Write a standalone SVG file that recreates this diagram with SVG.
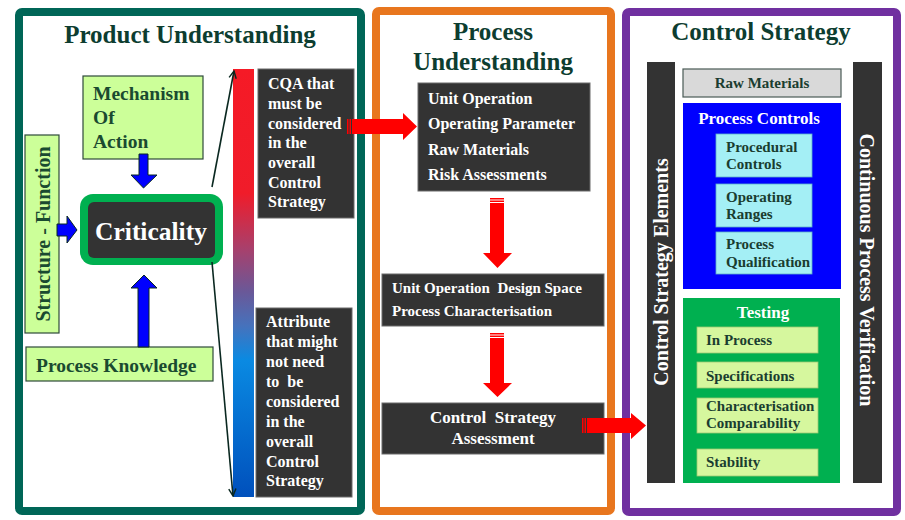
<svg xmlns="http://www.w3.org/2000/svg" width="905" height="520" viewBox="0 0 905 520">
<defs>
<linearGradient id="bar" x1="0" y1="0" x2="0" y2="1">
<stop offset="0" stop-color="#f51a26"/>
<stop offset="0.29" stop-color="#f01c2a"/>
<stop offset="0.42" stop-color="#a8406c"/>
<stop offset="0.52" stop-color="#6a5898"/>
<stop offset="0.6" stop-color="#4672bc"/>
<stop offset="0.68" stop-color="#0a8ae2"/>
<stop offset="1" stop-color="#0050bc"/>
</linearGradient>
<marker id="ah" viewBox="0 0 10 10" refX="9" refY="5" markerWidth="9" markerHeight="9" orient="auto" markerUnits="userSpaceOnUse">
<path d="M1,1 L9,5 L1,9" fill="none" stroke="#0a2820" stroke-width="1.6"/>
</marker>
</defs>
<style>
text{font-family:"Liberation Serif","Times New Roman",serif;font-weight:bold}
.title{font-size:25px;fill:#0d3d30}
.lg{fill:#ccff99;stroke:#2d4a3a;stroke-width:1.2}
.lgt{font-size:19.5px;fill:#1a4a30}
.dark{fill:#333333;stroke:#6a6a6a;stroke-width:1}
.wt{fill:#ffffff}
.cyan{fill:#a4eff5;stroke:#5fb0c8;stroke-width:0.8}
.pale{fill:#d6f79e;stroke:#9bc870;stroke-width:0.8}
.st{font-size:15px;fill:#1a3d30}
.blue{fill:#0000ff;stroke:#0a2a20;stroke-width:1}
.red{fill:#ff0000}
.conn{stroke:#0a2820;stroke-width:1.6;fill:none}
</style>

<rect width="905" height="520" fill="#ffffff"/>

<g id="panel-product">
<rect x="19" y="12" width="342" height="499" rx="3" fill="#ffffff" stroke="#006657" stroke-width="8"/>
<text x="190" y="43" text-anchor="middle" class="title">Product Understanding</text>
</g>
<g id="panel-process">
<rect x="376" y="11" width="235" height="500" rx="3" fill="#ffffff" stroke="#e8761e" stroke-width="8"/>
<text x="493" y="40" text-anchor="middle" class="title">Process</text>
<text x="493" y="70" text-anchor="middle" class="title">Understanding</text>
</g>
<g id="panel-control">
<rect x="626" y="12" width="271" height="500" rx="3" fill="#ffffff" stroke="#7030a0" stroke-width="8"/>
<text x="761" y="40" text-anchor="middle" class="title">Control Strategy</text>
</g>

<g id="mechanism">
<rect x="83" y="76" width="120" height="83" class="lg"/>
<text class="lgt" x="93" y="100">Mechanism</text>
<text class="lgt" x="93" y="124">Of</text>
<text class="lgt" x="93" y="148">Action</text>
</g>
<g id="structure">
<rect x="25" y="135" width="34" height="198" class="lg"/>
<text class="lgt" x="50" y="234" text-anchor="middle" transform="rotate(-90 50 234)" style="font-size:20px">Structure - Function</text>
</g>
<g id="knowledge">
<rect x="26" y="347" width="187" height="34" class="lg"/>
<text class="lgt" x="36" y="372">Process Knowledge</text>
</g>
<g id="criticality">
<rect x="80" y="194" width="143" height="71" rx="13" fill="#00b050"/>
<rect x="88" y="202" width="127" height="56" rx="6" fill="#333333"/>
<text x="151" y="240" text-anchor="middle" class="wt" style="font-size:25.5px">Criticality</text>
</g>
<g id="gradient-bar">
<rect x="233" y="69" width="21" height="428" fill="url(#bar)"/>
</g>
<g id="cqa">
<rect x="258" y="69" width="96" height="149" class="dark"/>
<g class="wt" style="font-size:16px">
<text x="268" y="89">CQA that</text>
<text x="268" y="109">must be</text>
<text x="268" y="129">considered</text>
<text x="268" y="148">in the</text>
<text x="268" y="168">overall</text>
<text x="268" y="188">Control</text>
<text x="268" y="207">Strategy</text>
</g>
</g>
<g id="attribute">
<rect x="256" y="308" width="96" height="189" class="dark"/>
<g class="wt" style="font-size:16px">
<text x="266" y="327">Attribute</text>
<text x="266" y="347">that might</text>
<text x="266" y="367">not need</text>
<text x="266" y="387" xml:space="preserve">to  be</text>
<text x="266" y="407">considered</text>
<text x="266" y="427">in the</text>
<text x="266" y="447">overall</text>
<text x="266" y="467">Control</text>
<text x="266" y="486">Strategy</text>
</g>
</g>

<g id="process-box1">
<rect x="418" y="83" width="172" height="108" class="dark"/>
<g class="wt" style="font-size:16px">
<text x="428" y="104">Unit Operation</text>
<text x="428" y="129">Operating Parameter</text>
<text x="428" y="155">Raw Materials</text>
<text x="428" y="180">Risk Assessments</text>
</g>
</g>
<g id="process-box2">
<rect x="382" y="274" width="222" height="52" class="dark"/>
<g class="wt" style="font-size:15px">
<text x="392" y="293" xml:space="preserve">Unit Operation  Design Space</text>
<text x="392" y="316">Process Characterisation</text>
</g>
</g>
<g id="process-box3">
<rect x="382" y="403" width="222" height="51" class="dark"/>
<g class="wt" style="font-size:17px" text-anchor="middle">
<text x="493" y="423" xml:space="preserve">Control  Strategy</text>
<text x="493" y="444">Assessment</text>
</g>
</g>

<g id="cs-elements">
<rect x="647" y="62" width="28" height="421" fill="#333333"/>
<text x="668" y="272" text-anchor="middle" transform="rotate(-90 668 272)" class="wt" style="font-size:20px">Control Strategy Elements</text>
</g>
<g id="cpv">
<rect x="853" y="62" width="29" height="421" fill="#333333"/>
<text x="860" y="270" text-anchor="middle" transform="rotate(90 860 270)" class="wt" style="font-size:20px">Continuous Process Verification</text>
</g>
<g id="raw-materials">
<rect x="683" y="69" width="158" height="28" fill="#d9d9d9" stroke="#4a5a55" stroke-width="1.2"/>
<text x="762" y="88" text-anchor="middle" class="st">Raw Materials</text>
</g>
<g id="process-controls">
<rect x="683" y="103" width="158" height="186" fill="#0000ff"/>
<text x="759" y="124" text-anchor="middle" class="wt" style="font-size:17px">Process Controls</text>
<rect x="716" y="134" width="96" height="43" class="cyan"/>
<text x="726" y="152" class="st">Procedural</text>
<text x="726" y="169" class="st">Controls</text>
<rect x="716" y="184" width="96" height="43" class="cyan"/>
<text x="726" y="202" class="st">Operating</text>
<text x="726" y="219" class="st">Ranges</text>
<rect x="716" y="232" width="96" height="42" class="cyan"/>
<text x="726" y="249" class="st">Process</text>
<text x="726" y="267" class="st">Qualification</text>
</g>
<g id="testing">
<rect x="683" y="298" width="157" height="185" fill="#00b050"/>
<text x="763" y="318" text-anchor="middle" class="wt" style="font-size:17px">Testing</text>
<rect x="697" y="327" width="121" height="26" class="pale"/>
<text x="706" y="345" class="st">In Process</text>
<rect x="697" y="362" width="121" height="26" class="pale"/>
<text x="706" y="381" class="st">Specifications</text>
<rect x="697" y="398" width="121" height="35" class="pale"/>
<text x="706" y="411" class="st">Characterisation</text>
<text x="706" y="428" class="st">Comparability</text>
<rect x="697" y="449" width="121" height="27" class="pale"/>
<text x="706" y="467" class="st">Stability</text>
</g>

<g id="connectors">
<path class="blue" d="M139,154 H148 V175 H157 L143.5,188 L131,175 H139 Z"/>
<path class="blue" d="M57,224 H67 V216 L77,230 L67,243 V236 H57 Z"/>
<path class="blue" d="M138,347 V288 H131 L144,275 L157,288 H149 V347 Z"/>
<line class="conn" x1="212" y1="187" x2="234" y2="71" marker-end="url(#ah)"/>
<line class="conn" x1="212" y1="262" x2="233" y2="496" marker-end="url(#ah)"/>
<g class="red">
<rect x="347" y="119" width="1.5" height="15"/>
<rect x="349.5" y="119" width="1.5" height="15"/>
<path d="M352,119 H403 V113 L417,126.5 L403,140 V134 H352 Z"/>
<rect x="490" y="198" width="14" height="1.5"/>
<rect x="490" y="200.5" width="14" height="1.5"/>
<path d="M490,203 V253 H483 L497.5,268 L512,253 H504 V203 Z"/>
<rect x="490" y="333" width="14" height="1.5"/>
<rect x="490" y="335.5" width="14" height="1.5"/>
<path d="M490,338 V383 H483 L497.5,397 L512,383 H504 V338 Z"/>
<rect x="582" y="418" width="1.5" height="15"/>
<rect x="584.5" y="418" width="1.5" height="15"/>
<path d="M587,418 H631 V413 L646,425.5 L631,439 V433 H587 Z"/>
</g>
</g>
</svg>
